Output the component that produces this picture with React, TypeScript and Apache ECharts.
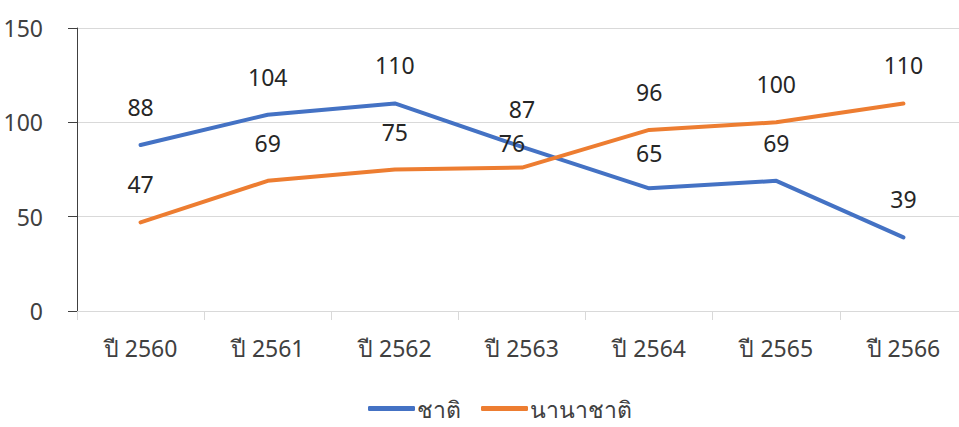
import React, { useEffect, useRef } from "react";
import * as echarts from "echarts";

const categories = ["ปี 2560", "ปี 2561", "ปี 2562", "ปี 2563", "ปี 2564", "ปี 2565", "ปี 2566"];
const domestic = [88, 104, 110, 87, 65, 69, 39];
const international = [47, 69, 75, 76, 96, 100, 110];
const seriesNames = ["ชาติ", "นานาชาติ"];
const seriesColors = ["#4472C4", "#ED7D31"];

const FONT = "'Noto Sans', 'DejaVu Sans', sans-serif";

export default function App() {
  const ref = useRef<HTMLDivElement>(null);
  useEffect(() => {
    if (!ref.current) return;
    const chart = echarts.init(ref.current, null, { renderer: "svg" });
    const labelBase = {
      show: true,
      position: "top" as const,
      distance: 26,
      fontSize: 23,
      fontFamily: FONT,
      color: "#262626",
    };
    chart.setOption({
      animation: false,
      backgroundColor: "#ffffff",
      textStyle: { fontFamily: FONT },
      grid: { left: 77, right: 8, top: 28, bottom: 116, containLabel: false },
      legend: {
        bottom: 2,
        left: 363,
        data: seriesNames.map((n, i) => ({ name: n, icon: "roundRect", itemStyle: { color: seriesColors[i] } })),
        itemWidth: 47,
        itemHeight: 5,
        itemGap: 20,
        textStyle: { fontSize: 23, color: "#404040", fontFamily: FONT, padding: [0, 0, 0, -3] },
      },
      xAxis: {
        type: "category",
        data: categories,
        boundaryGap: true,
        axisLine: { show: true, lineStyle: { color: "#d9d9d9", width: 1 } },
        axisTick: { show: true, length: 9, lineStyle: { color: "#d9d9d9" } },
        axisLabel: { fontSize: 23, color: "#404040", margin: 25, fontFamily: FONT },
        splitLine: { show: false },
      },
      yAxis: {
        type: "value",
        min: 0,
        max: 150,
        interval: 50,
        axisLine: { show: true, lineStyle: { color: "#404040", width: 1 } },
        axisTick: { show: true, length: 9, lineStyle: { color: "#404040" } },
        axisLabel: { fontSize: 23, color: "#404040", margin: 34, fontFamily: FONT },
        splitLine: { show: true, lineStyle: { color: "#d9d9d9", width: 1 } },
      },
      series: [
        {
          name: seriesNames[0],
          type: "line",
          data: domestic.map((v, i) =>
            i === 4 ? { value: v, label: { offset: [0, 3] } } : v
          ),
          symbol: "circle",
          symbolSize: 1,
          showSymbol: true,
          color: seriesColors[0],
          itemStyle: { color: seriesColors[0] },
          lineStyle: { width: 4, color: seriesColors[0], cap: "round", join: "round" },
          label: labelBase,
        },
        {
          name: seriesNames[1],
          type: "line",
          data: international.map((v, i) =>
            i === 3 ? { value: v, label: { offset: [-10, 13] } } : v
          ),
          symbol: "circle",
          symbolSize: 1,
          showSymbol: true,
          color: seriesColors[1],
          itemStyle: { color: seriesColors[1] },
          lineStyle: { width: 4, color: seriesColors[1], cap: "round", join: "round" },
          label: labelBase,
        },
      ],
    });
    return () => chart.dispose();
  }, []);
  return (
    <div
      style={{ position: "fixed", left: 0, top: 0, width: 959, height: 427, overflow: "hidden", background: "#fff" }}
    >
      <div ref={ref} style={{ width: 975, height: 427 }} />
    </div>
  );
}
